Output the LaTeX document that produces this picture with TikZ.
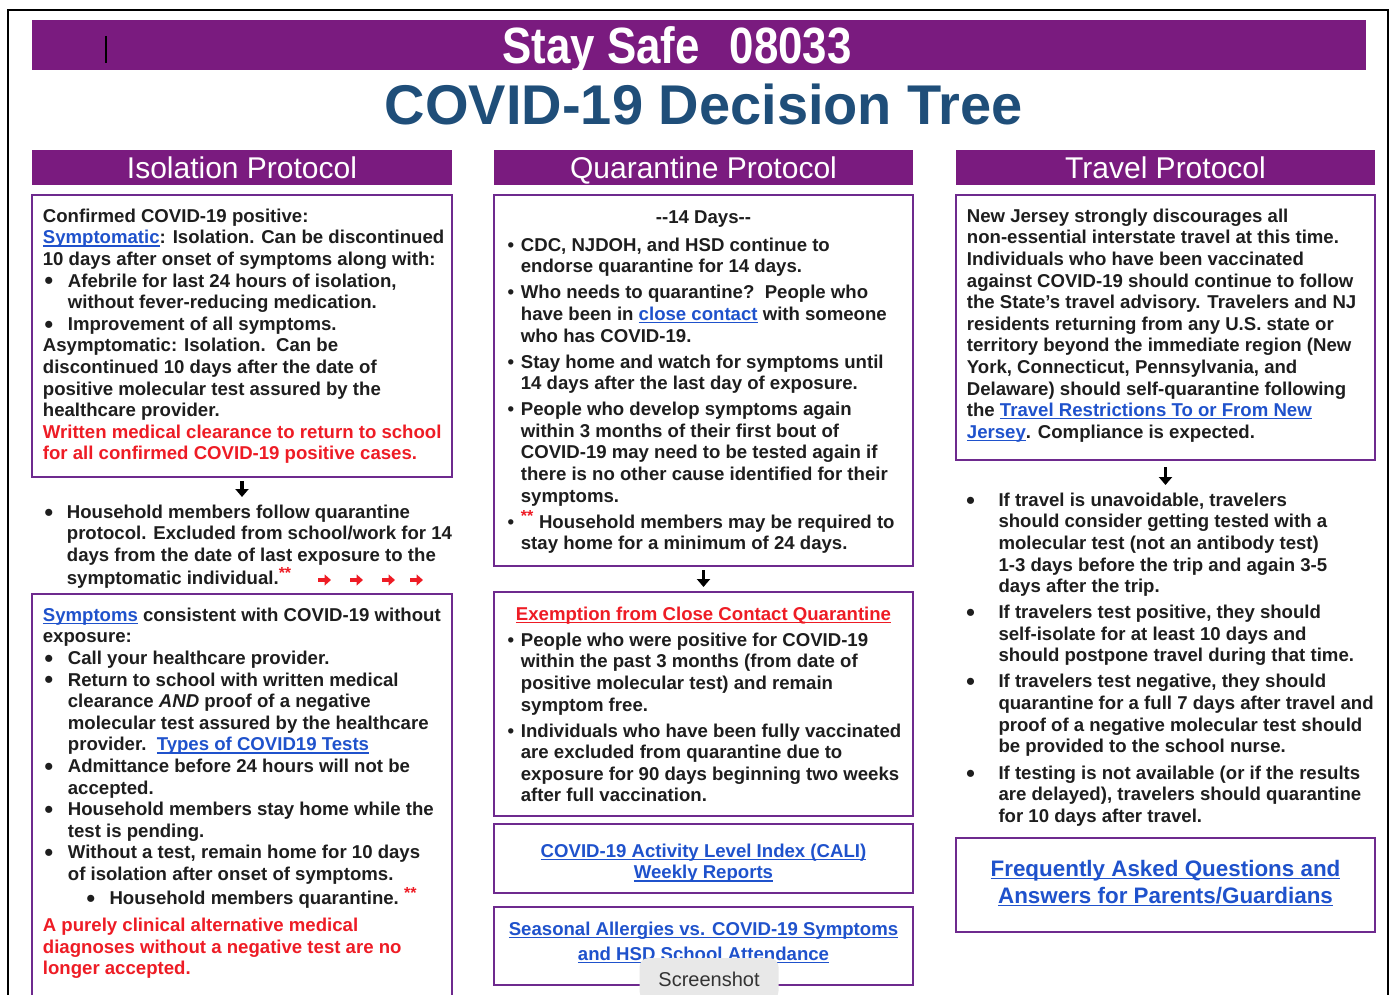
\documentclass[tikz,border=0pt]{standalone}
\usepackage{fontspec}
\setmainfont{Liberation Sans}
\newfontfamily\narrowsans[FakeStretch=0.86]{Liberation Sans}
\usetikzlibrary{arrows.meta}

\definecolor{bannerpurple}{HTML}{7A1B7F}
\definecolor{boxpurple}{HTML}{6E2A8E}
\definecolor{titleblue}{HTML}{1F4E79}
\definecolor{linkblue}{HTML}{1F52CC}
\definecolor{alertred}{HTML}{EE1C25}
\definecolor{bodyblack}{HTML}{1E1E1E}

\newsavebox\ulbox
\newcommand\uln[1]{\sbox\ulbox{#1}\rlap{\rule[-2.6pt]{\wd\ulbox}{1.1pt}}\usebox\ulbox}
\newcommand\bodyfont{\fontsize{18.6}{21.6}\selectfont\bfseries}
\newcommand\lnk[1]{\textcolor{linkblue}{\uln{#1}}}
\newcommand\redtxt[1]{\textcolor{alertred}{#1}}
\newcommand\stars{\textsuperscript{\textcolor{alertred}{\fontsize{16}{16}\selectfont**}}}
\newcommand\blt[1]{\makebox[#1][l]{\hspace{2.5pt}\textbullet}}
\newcommand\bigblt[1]{\makebox[#1][l]{\hspace{1pt}\raisebox{1.2pt}{\fontsize{16.5}{16.5}\selectfont ●}}}
\newcommand\ind[1]{\hspace*{#1}}

\begin{document}
\begin{tikzpicture}[
        x=1pt, y=-1pt,
        bar/.style={fill=bannerpurple, anchor=north west, inner sep=0pt, outer sep=0pt, text=white,
                    text height=21.5pt, text depth=0pt, font=\fontsize{30}{36}\selectfont},
        panel/.style={draw=boxpurple, line width=2.2pt, anchor=north west, inner sep=0pt, outer sep=0pt},
        txt/.style={anchor=north west, inner sep=0pt, align=left, text=bodyblack, font=\bodyfont},
        ctxt/.style={anchor=north, inner sep=0pt, align=center, text=bodyblack, font=\bodyfont},
        down/.style={line width=3.4pt, -{Triangle[length=8pt,width=13pt]}},
        nudge/.style={line width=4pt, alertred, -{Triangle[length=6.5pt,width=11pt]}}
    ]

    \useasboundingbox (0,0) rectangle (1392,995);
    \clip (0,0) rectangle (1392,995);
    \fill[white] (0,0) rectangle (1392,995);
    \draw[line width=2pt] (8,1000) |- (1388,10) -- (1388,1000);

    % heading
    \node[bar, minimum width=1334pt, minimum height=50pt] (topbar) at (32,20) {};
    \draw[line width=2pt] (106,36) -- (106,63);
    \node[anchor=base, inner sep=0pt, text=white, font=\narrowsans\fontsize{51}{54}\selectfont\bfseries] (staysafe) at (677,64) {Stay Safe\hspace{30pt}08033};
    \node[anchor=base, inner sep=0pt, text=titleblue, font=\fontsize{56}{60}\selectfont\bfseries] (title) at (704,125) {COVID-19 Decision Tree};

    \node[bar, minimum width=420pt, minimum height=35pt] (isohd) at (32,150) {Isolation Protocol};
    \node[bar, minimum width=419pt, minimum height=35pt] (quarhd) at (494,150) {Quarantine Protocol};
    \node[bar, minimum width=419pt, minimum height=35pt] (travhd) at (956,150) {Travel Protocol};

    % isolation
    \node[panel, minimum width=420pt, minimum height=282pt] (iso1) at (32,195) {};
    \node[txt] (iso1txt) at (42.7,207) {\strut Confirmed COVID-19 positive:\\
        \lnk{Symptomatic}: Isolation. Can be discontinued\\
        10 days after onset of symptoms along with:\\
        \bigblt{25pt}Afebrile for last 24 hours of isolation,\\
        \ind{25pt}without fever-reducing medication.\\
        \bigblt{25pt}Improvement of all symptoms.\\
        Asymptomatic: Isolation.\ \ Can be\\
        discontinued 10 days after the date of\\
        positive molecular test assured by the\\
        healthcare provider.\\
        \redtxt{Written medical clearance to return to school}\\
        \redtxt{for all confirmed COVID-19 positive cases.}};

    \node[txt] (hh) at (42.7,503) {\strut\bigblt{24pt}Household members follow quarantine\\
        \ind{24pt}protocol. Excluded from school/work for 14\\
        \ind{24pt}days from the date of last exposure to the\\[1.5pt]
        \ind{24pt}symptomatic individual.\stars};
    \foreach \x in {318,350,382,410}
        \draw[nudge] (\x,580) -- ++(13,0);

    \node[panel, minimum width=420pt, minimum height=420pt] (iso2) at (32,594) {};
    \node[txt] (iso2txt) at (42.7,606) {\strut\lnk{Symptoms} consistent with COVID-19 without\\
        exposure:\\
        \bigblt{25pt}Call your healthcare provider.\\
        \bigblt{25pt}Return to school with written medical\\
        \ind{25pt}clearance \textit{AND} proof of a negative\\
        \ind{25pt}molecular test assured by the healthcare\\
        \ind{25pt}provider.\ \ \lnk{Types of COVID19 Tests}\\
        \bigblt{25pt}Admittance before 24 hours will not be\\
        \ind{25pt}accepted.\\
        \bigblt{25pt}Household members stay home while the\\
        \ind{25pt}test is pending.\\
        \bigblt{25pt}Without a test, remain home for 10 days\\
        \ind{25pt}of isolation after onset of symptoms.\\[2.4pt]
        \ind{42pt}\bigblt{24.6pt}Household members quarantine.\ \stars\\[5.4pt]
        \redtxt{A purely clinical alternative medical}\\
        \redtxt{diagnoses without a negative test are no}\\
        \redtxt{longer accepted.}};

    % quarantine
    \node[panel, minimum width=419pt, minimum height=371pt] (quar1) at (494,195) {};
    \node[anchor=base, inner sep=0pt, text=bodyblack, font=\bodyfont] (q1head) at (703.5,224) {-{}-14 Days-{}-};
    \node[txt] (q1list) at (505,236) {\strut\blt{15.7pt}CDC, NJDOH, and HSD continue to\\
        \ind{15.7pt}endorse quarantine for 14 days.\\[4.4pt]
        \blt{15.7pt}Who needs to quarantine?\ \ People who\\
        \ind{15.7pt}have been in \lnk{close contact} with someone\\
        \ind{15.7pt}who has COVID-19.\\[4.4pt]
        \blt{15.7pt}Stay home and watch for symptoms until\\
        \ind{15.7pt}14 days after the last day of exposure.\\[4.4pt]
        \blt{15.7pt}People who develop symptoms again\\
        \ind{15.7pt}within 3 months of their first bout of\\
        \ind{15.7pt}COVID-19 may need to be tested again if\\
        \ind{15.7pt}there is no other cause identified for their\\
        \ind{15.7pt}symptoms.\\[4.4pt]
        \blt{15.7pt}\stars\ Household members may be required to\\
        \ind{15.7pt}stay home for a minimum of 24 days.};

    \node[panel, minimum width=419pt, minimum height=224pt] (quar2) at (494,592) {};
    \node[anchor=base, inner sep=0pt, font=\bodyfont] (q2head) at (703.5,620) {\textcolor{alertred}{\uln{Exemption from Close Contact Quarantine}}};
    \node[txt] (q2list) at (505,631) {\strut\blt{15.7pt}People who were positive for COVID-19\\
        \ind{15.7pt}within the past 3 months (from date of\\
        \ind{15.7pt}positive molecular test) and remain\\
        \ind{15.7pt}symptom free.\\[4.4pt]
        \blt{15.7pt}Individuals who have been fully vaccinated\\
        \ind{15.7pt}are excluded from quarantine due to\\
        \ind{15.7pt}exposure for 90 days beginning two weeks\\
        \ind{15.7pt}after full vaccination.};

    \node[panel, minimum width=419pt, minimum height=69pt] (quar3) at (494,824) {};
    \node[ctxt] (cali) at (703.5,842) {\strut\lnk{COVID-19 Activity Level Index (CALI)}\\
        \lnk{Weekly Reports}};

    \node[panel, minimum width=419pt, minimum height=78pt] (quar4) at (494,907) {};
    \node[ctxt] (allergy) at (703.5,920) {\strut\lnk{Seasonal Allergies vs. COVID-19 Symptoms}\\[3.4pt]
        \lnk{and HSD School Attendance}};

    % travel
    \node[panel, minimum width=419pt, minimum height=265pt] (trav1) at (956,195) {};
    \node[txt] (trav1txt) at (966.7,207) {\strut New Jersey strongly discourages all\\
        non-essential interstate travel at this time.\\
        Individuals who have been vaccinated\\
        against COVID-19 should continue to follow\\
        the State's travel advisory. Travelers and NJ\\
        residents returning from any U.S. state or\\
        territory beyond the immediate region (New\\
        York, Connecticut, Pennsylvania, and\\
        Delaware) should self-quarantine following\\
        the \lnk{Travel Restrictions To or From New}\\
        \lnk{Jersey}. Compliance is expected.};

    \node[txt] (tlist) at (964.5,491) {\strut\bigblt{33.8pt}If travel is unavoidable, travelers\\
        \ind{33.8pt}should consider getting tested with a\\
        \ind{33.8pt}molecular test (not an antibody test)\\
        \ind{33.8pt}1-3 days before the trip and again 3-5\\
        \ind{33.8pt}days after the trip.\\[4.4pt]
        \bigblt{33.8pt}If travelers test positive, they should\\
        \ind{33.8pt}self-isolate for at least 10 days and\\
        \ind{33.8pt}should postpone travel during that time.\\[4.4pt]
        \bigblt{33.8pt}If travelers test negative, they should\\
        \ind{33.8pt}quarantine for a full 7 days after travel and\\
        \ind{33.8pt}proof of a negative molecular test should\\
        \ind{33.8pt}be provided to the school nurse.\\[5pt]
        \bigblt{33.8pt}If testing is not available (or if the results\\
        \ind{33.8pt}are delayed), travelers should quarantine\\
        \ind{33.8pt}for 10 days after travel.};

    \node[panel, minimum width=419pt, minimum height=94pt] (trav2) at (956,838) {};
    \node[ctxt, font=\fontsize{22.4}{27}\selectfont\bfseries] (faq) at (1165.5,857) {\strut\lnk{Frequently Asked Questions and}\\
        \lnk{Answers for Parents/Guardians}};

    % connectors
    \draw[down, shorten <=4pt, shorten >=6pt] (iso1.south) -- (iso1.south |- hh.north);
    \draw[down, shorten <=4pt, shorten >=5pt] (quar1.south) -- (quar2.north);
    \draw[down, shorten <=7pt, shorten >=6pt] (trav1.south) -- (trav1.south |- tlist.north);

    \node[fill=black!9, rounded corners=9pt, minimum width=139pt, minimum height=42pt, inner sep=0pt,
          text=black!80, font=\fontsize{20}{24}\selectfont] (shot) at (709,979) {Screenshot};
\end{tikzpicture}
\end{document}
